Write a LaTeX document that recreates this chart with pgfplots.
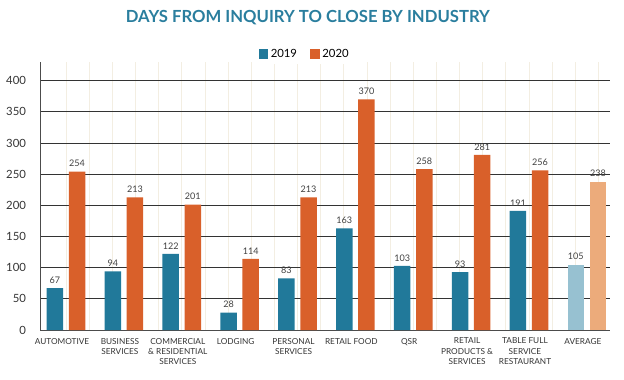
\documentclass[border=0pt]{standalone}
\usepackage{pgfplots}
\pgfplotsset{compat=1.18}
\usepackage{fontspec}
\setmainfont{Lato}
\definecolor{cb}{HTML}{21799A}
\definecolor{co}{HTML}{D9602A}
\definecolor{cbl}{HTML}{97C1D1}
\definecolor{col}{HTML}{ECAB7B}
\definecolor{ttl}{HTML}{2A7E9E}
\definecolor{vg}{HTML}{F3EEE2}
\begin{document}
\begin{tikzpicture}
\begin{axis}[
  at={(0,0)}, anchor=south west,
  scale only axis, width=427.5pt, height=201pt,
  ymin=0, ymax=430, xmin=-0.45, xmax=9.4,
  ybar, bar width=12.4pt,
  ytick={0,50,...,400},
  ymajorgrids, major grid style={black!80, line width=0.6pt},
  minor xtick={0,0.4,...,9.3}, xminorgrids, minor grid style={vg, line width=0.6pt},
  xtick={0,...,9},
  xticklabels={AUTOMOTIVE, BUSINESS\\SERVICES, COMMERCIAL\\\& RESIDENTIAL\\SERVICES, LODGING, PERSONAL\\SERVICES, RETAIL FOOD, QSR, RETAIL\\PRODUCTS \&\\SERVICES, TABLE FULL\\SERVICE\\RESTAURANT, AVERAGE},
  xticklabel style={font=\fontsize{6.2}{7.8}\selectfont, align=center, text=black!80, xshift=-3pt, yshift=-2.5pt},
  yticklabel style={font=\fontsize{8.5}{9}\selectfont, text=black!80, xshift=-7pt},
  /pgf/number format/assume math mode=true,
  major tick length=0pt, minor tick length=0pt,
  axis x line*=bottom, axis y line*=left,
  axis line style={black!70, line width=0.6pt, -},
  nodes near coords,
  nodes near coords style={font=\fontsize{6.8}{7}\selectfont, text=black!75},
  title={DAYS FROM INQUIRY TO CLOSE BY INDUSTRY},
  title style={font=\bfseries\fontsize{12.5}{14}\selectfont, color=ttl, at={(0.47,1)}, yshift=18pt},
  legend style={at={(0.465,1)}, anchor=south, yshift=-2pt, draw=none, legend columns=2, font=\fontsize{8.5}{9}\selectfont, /tikz/every even column/.append style={column sep=8pt}},
  legend image code/.code={\fill[#1] (0pt,-3.5pt) rectangle (7pt,3.5pt);},
  enlarge x limits=false,
]
\addplot[fill=cb, draw=none, bar shift=-8.3pt] coordinates {(0,67) (1,94) (2,122) (3,28) (4,83) (5,163) (6,103) (7,93) (8,191)};
\addlegendentry{2019}
\addplot[fill=co, draw=none, bar shift=8.3pt] coordinates {(0,254) (1,213) (2,201) (3,114) (4,213) (5,370) (6,258) (7,281) (8,256)};
\addlegendentry{2020}
\addplot[fill=cbl, draw=none, bar shift=-8.3pt, forget plot] coordinates {(9,105)};
\addplot[fill=col, draw=none, bar shift=8.3pt, forget plot] coordinates {(9,238)};
\end{axis}
\pgfresetboundingbox
\path[use as bounding box] (-30pt,-36.75pt) rectangle (438pt,247.5pt);
\end{tikzpicture}
\end{document}
